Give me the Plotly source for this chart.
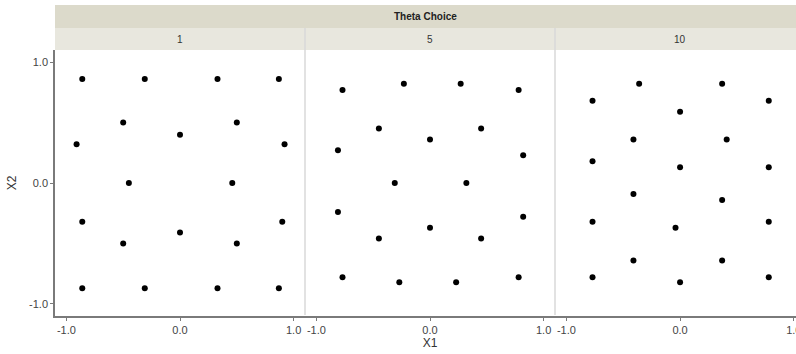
import plotly.graph_objects as go

# Design points for each theta choice
theta_labels = ["1", "5", "10"]

x1_theta1 = [-0.86, -0.31, 0.33, 0.87,
             -0.50, 0.00, 0.50,
             -0.91, 0.92,
             -0.45, 0.46,
             -0.86, 0.90,
             0.00,
             -0.50, 0.50,
             -0.86, -0.31, 0.33, 0.87]
x2_theta1 = [0.86, 0.86, 0.86, 0.86,
             0.50, 0.40, 0.50,
             0.32, 0.32,
             0.00, 0.00,
             -0.32, -0.32,
             -0.41,
             -0.50, -0.50,
             -0.87, -0.87, -0.87, -0.87]

x1_theta5 = [-0.77, -0.23, 0.27, 0.78,
             -0.45, 0.45,
             0.00,
             -0.81, 0.82,
             -0.31, 0.32,
             -0.81, 0.82,
             0.00,
             -0.45, 0.45,
             -0.77, -0.27, 0.23, 0.78]
x2_theta5 = [0.77, 0.82, 0.82, 0.77,
             0.45, 0.45,
             0.36,
             0.27, 0.23,
             0.00, 0.00,
             -0.24, -0.28,
             -0.37,
             -0.46, -0.46,
             -0.78, -0.82, -0.82, -0.78]

x1_theta10 = [-0.77, -0.36, 0.37, 0.78,
              0.00,
              -0.41, 0.41,
              -0.77, 0.00, 0.78,
              -0.41, 0.37,
              -0.77, -0.04, 0.78,
              -0.41, 0.37,
              -0.77, 0.00, 0.78]
x2_theta10 = [0.68, 0.82, 0.82, 0.68,
              0.59,
              0.36, 0.36,
              0.18, 0.13, 0.13,
              -0.09, -0.14,
              -0.32, -0.37, -0.32,
              -0.64, -0.64,
              -0.78, -0.82, -0.78]

x1_sets = [x1_theta1, x1_theta5, x1_theta10]
x2_sets = [x2_theta1, x2_theta5, x2_theta10]

tick_vals = [-1.0, 0.0, 1.0]
tick_text = ["-1.0", "0.0", "1.0"]

W, H = 796, 354
ml, mr, mt, mb = 55, 0, 50, 38
plot_w = W - ml - mr
plot_h = H - mt - mb

# panel edges in pixels (relative to plot area); the last panel runs past the page edge
px_per_unit = 113.7
edges = [0, 250, 500, plot_w]
domains = [[edges[i] / plot_w, edges[i + 1] / plot_w] for i in range(3)]
x_ranges = [[-1.1, 1.1], [-1.1, 1.1], [-1.1, (edges[3] - edges[2]) / px_per_unit - 1.1]]

font_family = "Liberation Sans Narrow, Arial Narrow, Liberation Sans, Arial, sans-serif"
axis_col = "#7a7a7a"
tick_font = dict(family=font_family, size=11, color="#444444")

fig = go.Figure()
for i in range(3):
    fig.add_trace(go.Scatter(
        x=x1_sets[i], y=x2_sets[i], mode="markers",
        marker=dict(color="black", size=6),
        xaxis="x" if i == 0 else f"x{i + 1}",
        yaxis="y" if i == 0 else f"y{i + 1}",
        showlegend=False, hoverinfo="x+y",
    ))

layout = dict(
    width=W, height=H,
    margin=dict(l=ml, r=mr, t=mt, b=mb, pad=0, autoexpand=False),
    paper_bgcolor="white", plot_bgcolor="white",
    font=dict(family=font_family, color="#333333"),
)

for i in range(3):
    xa = "xaxis" if i == 0 else f"xaxis{i + 1}"
    ya = "yaxis" if i == 0 else f"yaxis{i + 1}"
    layout[xa] = dict(
        domain=domains[i], range=x_ranges[i], automargin=False,
        anchor="y" if i == 0 else f"y{i + 1}",
        tickvals=tick_vals, ticktext=tick_text,
        showgrid=False, zeroline=False,
        showline=True, linecolor=axis_col, linewidth=1.5,
        ticks="outside", ticklen=3, tickcolor=axis_col, tickwidth=1,
        tickfont=tick_font, ticklabeloverflow="allow",
        title=dict(text="X1", font=dict(family=font_family, size=12, color="#333333"),
                   standoff=2) if i == 1 else None,
    )
    layout[ya] = dict(
        domain=[0, 1], range=[-1.1, 1.1], automargin=False,
        anchor="x" if i == 0 else f"x{i + 1}",
        showgrid=False, zeroline=False,
        showline=(i == 0), linecolor=axis_col, linewidth=1.5,
        showticklabels=(i == 0),
        tickvals=tick_vals, ticktext=tick_text,
        ticks="outside" if i == 0 else "", ticklen=3, tickcolor=axis_col,
        tickfont=tick_font,
        title=dict(text="X2", font=dict(family=font_family, size=12, color="#333333"),
                   standoff=10) if i == 0 else None,
    )

fig.update_layout(**layout)


def py(pix):
    # pixel row (from top of page) -> paper y
    return (H - mb - pix) / plot_h


shapes = []
# outer strip: "Theta Choice"
shapes.append(dict(type="rect", xref="paper", yref="paper", x0=0, x1=1,
                   y0=py(28), y1=py(5), fillcolor="#dcdacb", line=dict(width=0), layer="below"))
# inner strips per panel
for i in range(3):
    shapes.append(dict(type="rect", xref="paper", yref="paper",
                       x0=domains[i][0], x1=domains[i][1], y0=py(50), y1=py(28),
                       fillcolor="#e8e7de", line=dict(width=0), layer="below"))
# panel separators
for i in (1, 2):
    shapes.append(dict(type="line", xref="paper", yref="paper",
                       x0=domains[i][0], x1=domains[i][0], y0=py(315), y1=py(28),
                       line=dict(color="#d9d9d9", width=1.5)))
fig.update_layout(shapes=shapes)

strip_font = "Liberation Sans, Arial, sans-serif"
annotations = [dict(text="<b>Theta Choice</b>", xref="paper", yref="paper",
                    x=0.5, y=py(16.5), xanchor="center", yanchor="middle", showarrow=False,
                    font=dict(family=strip_font, size=10, color="#222222"))]
for i in range(3):
    cx = (domains[i][0] + domains[i][1]) / 2 if i < 2 else domains[i][0] + 125 / plot_w
    annotations.append(dict(text=theta_labels[i], xref="paper", yref="paper",
                            x=cx, y=py(39), xanchor="center", yanchor="middle", showarrow=False,
                            font=dict(family=strip_font, size=10, color="#333333")))
fig.update_layout(annotations=annotations)

fig.write_html("out.html")
